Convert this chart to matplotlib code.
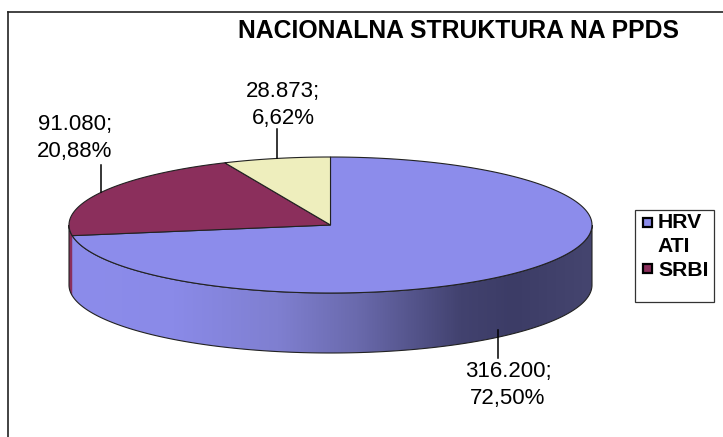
#!/usr/bin/env python
# -*- coding: utf-8 -*-
import numpy as np
import matplotlib
matplotlib.use('Agg')
import matplotlib.pyplot as plt
from matplotlib import colors
from matplotlib.patches import Polygon, Rectangle

title = 'NACIONALNA STRUKTURA NA PPDS'
values = [316200, 91080, 28873]
slice_colors = ['#8c8ceb', '#8b2f5c', '#eeeebd']
labels = ['316.200;\n72,50%', '91.080;\n20,88%', '28.873;\n6,62%']

plt.rcParams['font.family'] = ['Liberation Sans', 'DejaVu Sans']

fig = plt.figure(figsize=(7.23, 4.37), dpi=100)
ax = fig.add_axes([0, 0, 1, 1])
ax.set_xlim(0, 723)
ax.set_ylim(437, 0)
ax.axis('off')

# pie geometry in pixels
cx, cy = 330.5, 225.0
a, b = 261.5, 68.0
depth = 60.0


def pt(ang):
    # angle clockwise from 12 o'clock, degrees
    r = np.radians(ang)
    return cx + a * np.sin(r), cy - b * np.cos(r)


fractions = np.array(values) / float(sum(values))
edges = np.concatenate([[0], np.cumsum(fractions) * 360])

# side wall, only the front half shows
wall_ang = np.linspace(90, 270, 200)
wx, wy = pt(wall_ang)
wall = np.concatenate([np.c_[wx, wy], np.c_[wx[::-1], wy[::-1] + depth]])
grad = colors.LinearSegmentedColormap.from_list('wall', [
    (0.0, '#8c8ceb'), (0.2, '#8a8ae8'), (0.4, '#7f7fd0'), (0.55, '#6a6aad'),
    (0.75, '#42426f'), (0.85, '#3c3c66'), (1.0, '#45456f')])
im = ax.imshow(np.linspace(0, 1, 256).reshape(1, -1), cmap=grad, aspect='auto',
               extent=[cx - a, cx + a, cy + b + depth, cy], zorder=1)
wall_patch = Polygon(wall, closed=True, fc='none', ec='none', transform=ax.transData)
ax.add_patch(wall_patch)
im.set_clip_path(wall_patch)
ax.set_xlim(0, 723)
ax.set_ylim(437, 0)

# small bit of the maroon slice on the left of the wall
sl_ang = np.linspace(edges[1], 270, 10)
sx, sy = pt(sl_ang)
ax.add_patch(Polygon(np.concatenate([np.c_[sx, sy], np.c_[sx[::-1], sy[::-1] + depth]]),
                     closed=True, fc='#8b2f5c', ec='none', zorder=2))
ax.add_patch(Polygon(wall, closed=True, fc='none', ec='#222222', lw=0.8, zorder=3))

# top faces
for i in range(len(values)):
    ang = np.linspace(edges[i], edges[i + 1], 200)
    x, y = pt(ang)
    xy = np.concatenate([[[cx, cy]], np.c_[x, y]])
    ax.add_patch(Polygon(xy, closed=True, fc=slice_colors[i], ec='#222222', lw=0.8, zorder=4))

# data labels with leader lines
ax.plot([498, 498], [330, 358], color='black', lw=1.1, zorder=5)
ax.plot([101, 101], [165, 192], color='black', lw=1.1, zorder=5)
ax.plot([276.5, 276.5], [129, 158], color='black', lw=1.1, zorder=5)
label_pos = [(508, 385), (75, 138), (283, 105)]
for s, (lx, ly) in zip(labels, label_pos):
    ax.text(lx, ly, s, ha='center', va='center', fontsize=16, linespacing=1.38, zorder=6)

ax.text(459, 31, title, ha='center', va='center', fontsize=17.8, fontweight='bold')

# chart frame
ax.plot([7.5, 7.5], [437, 11.5], color='#222222', lw=1.2, clip_on=False)
ax.plot([7.5, 723], [11.5, 11.5], color='#222222', lw=1.2, clip_on=False)

# legend
ax.add_patch(Rectangle((635, 210), 79, 92, fc='white', ec='#333333', lw=0.9))
ax.add_patch(Rectangle((643, 218), 9, 9, fc=slice_colors[0], ec='black', lw=1.6))
ax.add_patch(Rectangle((643, 264), 9, 9, fc=slice_colors[1], ec='black', lw=1.6))
ax.text(658, 222, 'HRV', ha='left', va='center', fontsize=15.2, fontweight='bold')
ax.text(657, 246, 'ATI', ha='left', va='center', fontsize=15.2, fontweight='bold')
ax.text(658, 270, 'SRBI', ha='left', va='center', fontsize=15.2, fontweight='bold')

fig.savefig('out.png', dpi=100)
